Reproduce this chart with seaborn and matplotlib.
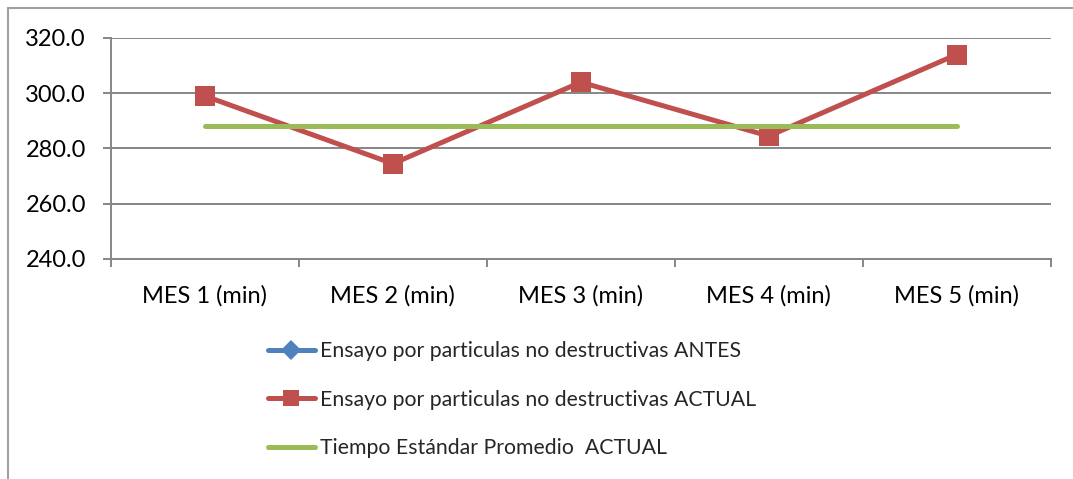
import matplotlib
matplotlib.use("Agg")
import matplotlib.pyplot as plt
from matplotlib.lines import Line2D
import seaborn as sns
import pandas as pd

# Months (categories) and recorded times
meses = ["MES 1 (min)", "MES 2 (min)", "MES 3 (min)", "MES 4 (min)", "MES 5 (min)"]
actual = [299.0, 274.5, 304.0, 284.5, 314.0]
tiempo_estandar = [288.0, 288.0, 288.0, 288.0, 288.0]
y_ticks = [240.0, 260.0, 280.0, 300.0, 320.0]

lbl_antes = "Ensayo por particulas no destructivas ANTES"
lbl_actual = "Ensayo por particulas no destructivas ACTUAL"
lbl_std = "Tiempo Estándar Promedio  ACTUAL"

sns.set_theme(style="white")
plt.rcParams["font.family"] = ["Lato", "DejaVu Sans"]

C_BLUE = "#4F81BD"
C_RED = "#C0504D"
C_GREEN = "#9BBB59"
C_GRID = "#868686"

df = pd.DataFrame({"x": range(len(meses)), "actual": actual, "std": tiempo_estandar})

fig = plt.figure(figsize=(10.73, 4.79), dpi=100)
ax = fig.add_axes([0.1034, 0.4593, 0.8758, 0.4614])

sns.lineplot(data=df, x="x", y="actual", ax=ax, color=C_RED, lw=3.6,
             marker="s", markersize=14, markeredgewidth=0, zorder=3)
sns.lineplot(data=df, x="x", y="std", ax=ax, color=C_GREEN, lw=3.6,
             solid_capstyle="round", zorder=4)

ax.set_xlim(-0.5, len(meses) - 0.5)
ax.set_ylim(y_ticks[0], y_ticks[-1])
ax.set_yticks(y_ticks)
ax.set_yticklabels([f"{v:.1f}" for v in y_ticks])
ax.set_xticks(range(len(meses)))
ax.set_xticklabels(meses)
ax.set_xticks([i - 0.5 for i in range(len(meses) + 1)], minor=True)
ax.set_xlabel("")
ax.set_ylabel("")

ax.grid(axis="y", color=C_GRID, lw=1.4)
ax.set_axisbelow(True)
for s in ["top", "right"]:
    ax.spines[s].set_visible(False)
for s in ["left", "bottom"]:
    ax.spines[s].set_color(C_GRID)
    ax.spines[s].set_linewidth(1.4)

ax.tick_params(axis="y", which="major", left=True, length=6, width=1.4,
               color=C_GRID, labelsize=17, pad=12, labelcolor="black")
ax.tick_params(axis="x", which="major", bottom=False, labelsize=17, pad=13,
               labelcolor="black")
ax.tick_params(axis="x", which="minor", bottom=True, length=6, width=1.4,
               color=C_GRID)

handles = [
    Line2D([], [], color=C_BLUE, lw=3.6, marker="D", markersize=10, markeredgewidth=0),
    Line2D([], [], color=C_RED, lw=3.6, marker="s", markersize=12, markeredgewidth=0),
    Line2D([], [], color=C_GREEN, lw=3.6, solid_capstyle="round"),
]
fig.legend(handles, [lbl_antes, lbl_actual, lbl_std], loc="upper left",
           bbox_to_anchor=(0.2498, 0.288), frameon=False, fontsize=15.3,
           handlelength=2.2, handletextpad=0.25, labelspacing=1.34,
           borderpad=0, borderaxespad=0)

# chart-area border (left and top edges)
fig.add_artist(Line2D([0.0075, 0.0075], [0, 0.983], color="#A0A0A0", lw=1.5,
                      transform=fig.transFigure))
fig.add_artist(Line2D([0.0075, 1.0], [0.983, 0.983], color="#A0A0A0", lw=1.5,
                      transform=fig.transFigure))

fig.savefig("out.png", dpi=100)
